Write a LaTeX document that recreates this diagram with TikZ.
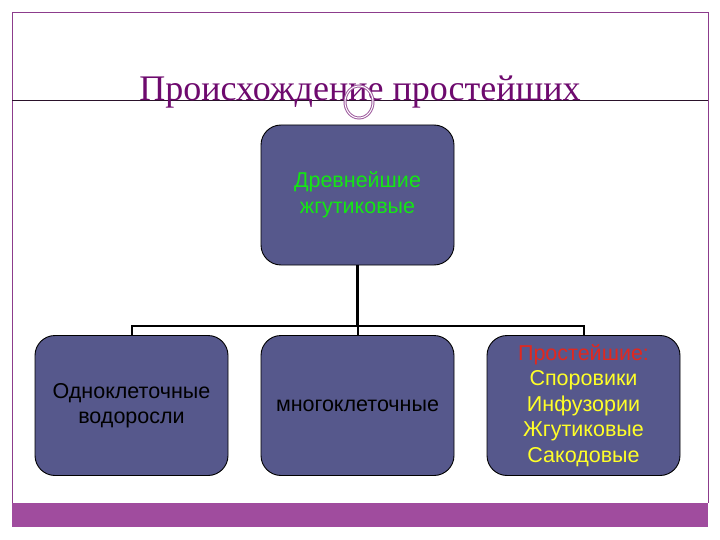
\documentclass[tikz,border=0pt]{standalone}
\usepackage{fontspec}
\setmainfont{Liberation Serif}
\newfontfamily\boxfont{Liberation Sans}
\usepackage{xcolor}
\usetikzlibrary{positioning,calc}

\definecolor{framepurple}{RGB}{140,60,140}
\definecolor{titlepurple}{RGB}{110,10,110}
\definecolor{barpurple}{RGB}{160,76,158}
\definecolor{boxfill}{RGB}{86,88,140}
\definecolor{txtgreen}{RGB}{20,230,20}
\definecolor{txtred}{RGB}{225,40,30}
\definecolor{txtyellow}{RGB}{255,255,40}

\begin{document}
\begin{tikzpicture}[
    x=1pt,
    y=-1pt,
    taxon/.style={draw=black, line width=0.9pt, fill=boxfill, rounded corners=20pt,
                  minimum width=193pt, minimum height=140pt, align=center,
                  font=\boxfont\fontsize{21.5}{25.5}\selectfont},
    link/.style={line width=2pt}
]
\useasboundingbox (0,0) rectangle (720,540);
% frame and bottom bar
\draw[framepurple, line width=0.7pt] (12,503) -- (12,12) -- (708,12) -- (708,503);
\draw[black!70!framepurple, line width=0.7pt] (12,100) -- (708,100);
\fill[barpurple] (12,503) rectangle (708,527);
\node[text=titlepurple, font=\fontsize{36}{42}\selectfont, anchor=base] (title) at (360,101) {Происхождение простейших};
\draw[framepurple!85, double=white, double distance=1pt, line width=1pt] (359,102) ellipse (14 and 16);

% boxes
\node[taxon, text=txtgreen] (ancient) at (357.5,195) {Древнейшие\\жгутиковые};
\node[taxon, text=black] (unicell) at (131.5,405.5) {Одноклеточные\\водоросли};
\node[taxon, text=black] (multicell) at (357.5,405.5) {многоклеточные};
\node[taxon, text=txtyellow] (protists) at (583.5,405.5) {\textcolor{txtred}{Простейшие:}\\Споровики\\Инфузории\\Жгутиковые\\Сакодовые};

% tree
\coordinate (split) at (357.5,326);
\draw[link, line width=2.6pt] (ancient.south) -- (split);
\draw[link] (unicell.north) |- (split) -| (protists.north);
\draw[link] (split) -- (multicell.north);
\end{tikzpicture}
\end{document}
